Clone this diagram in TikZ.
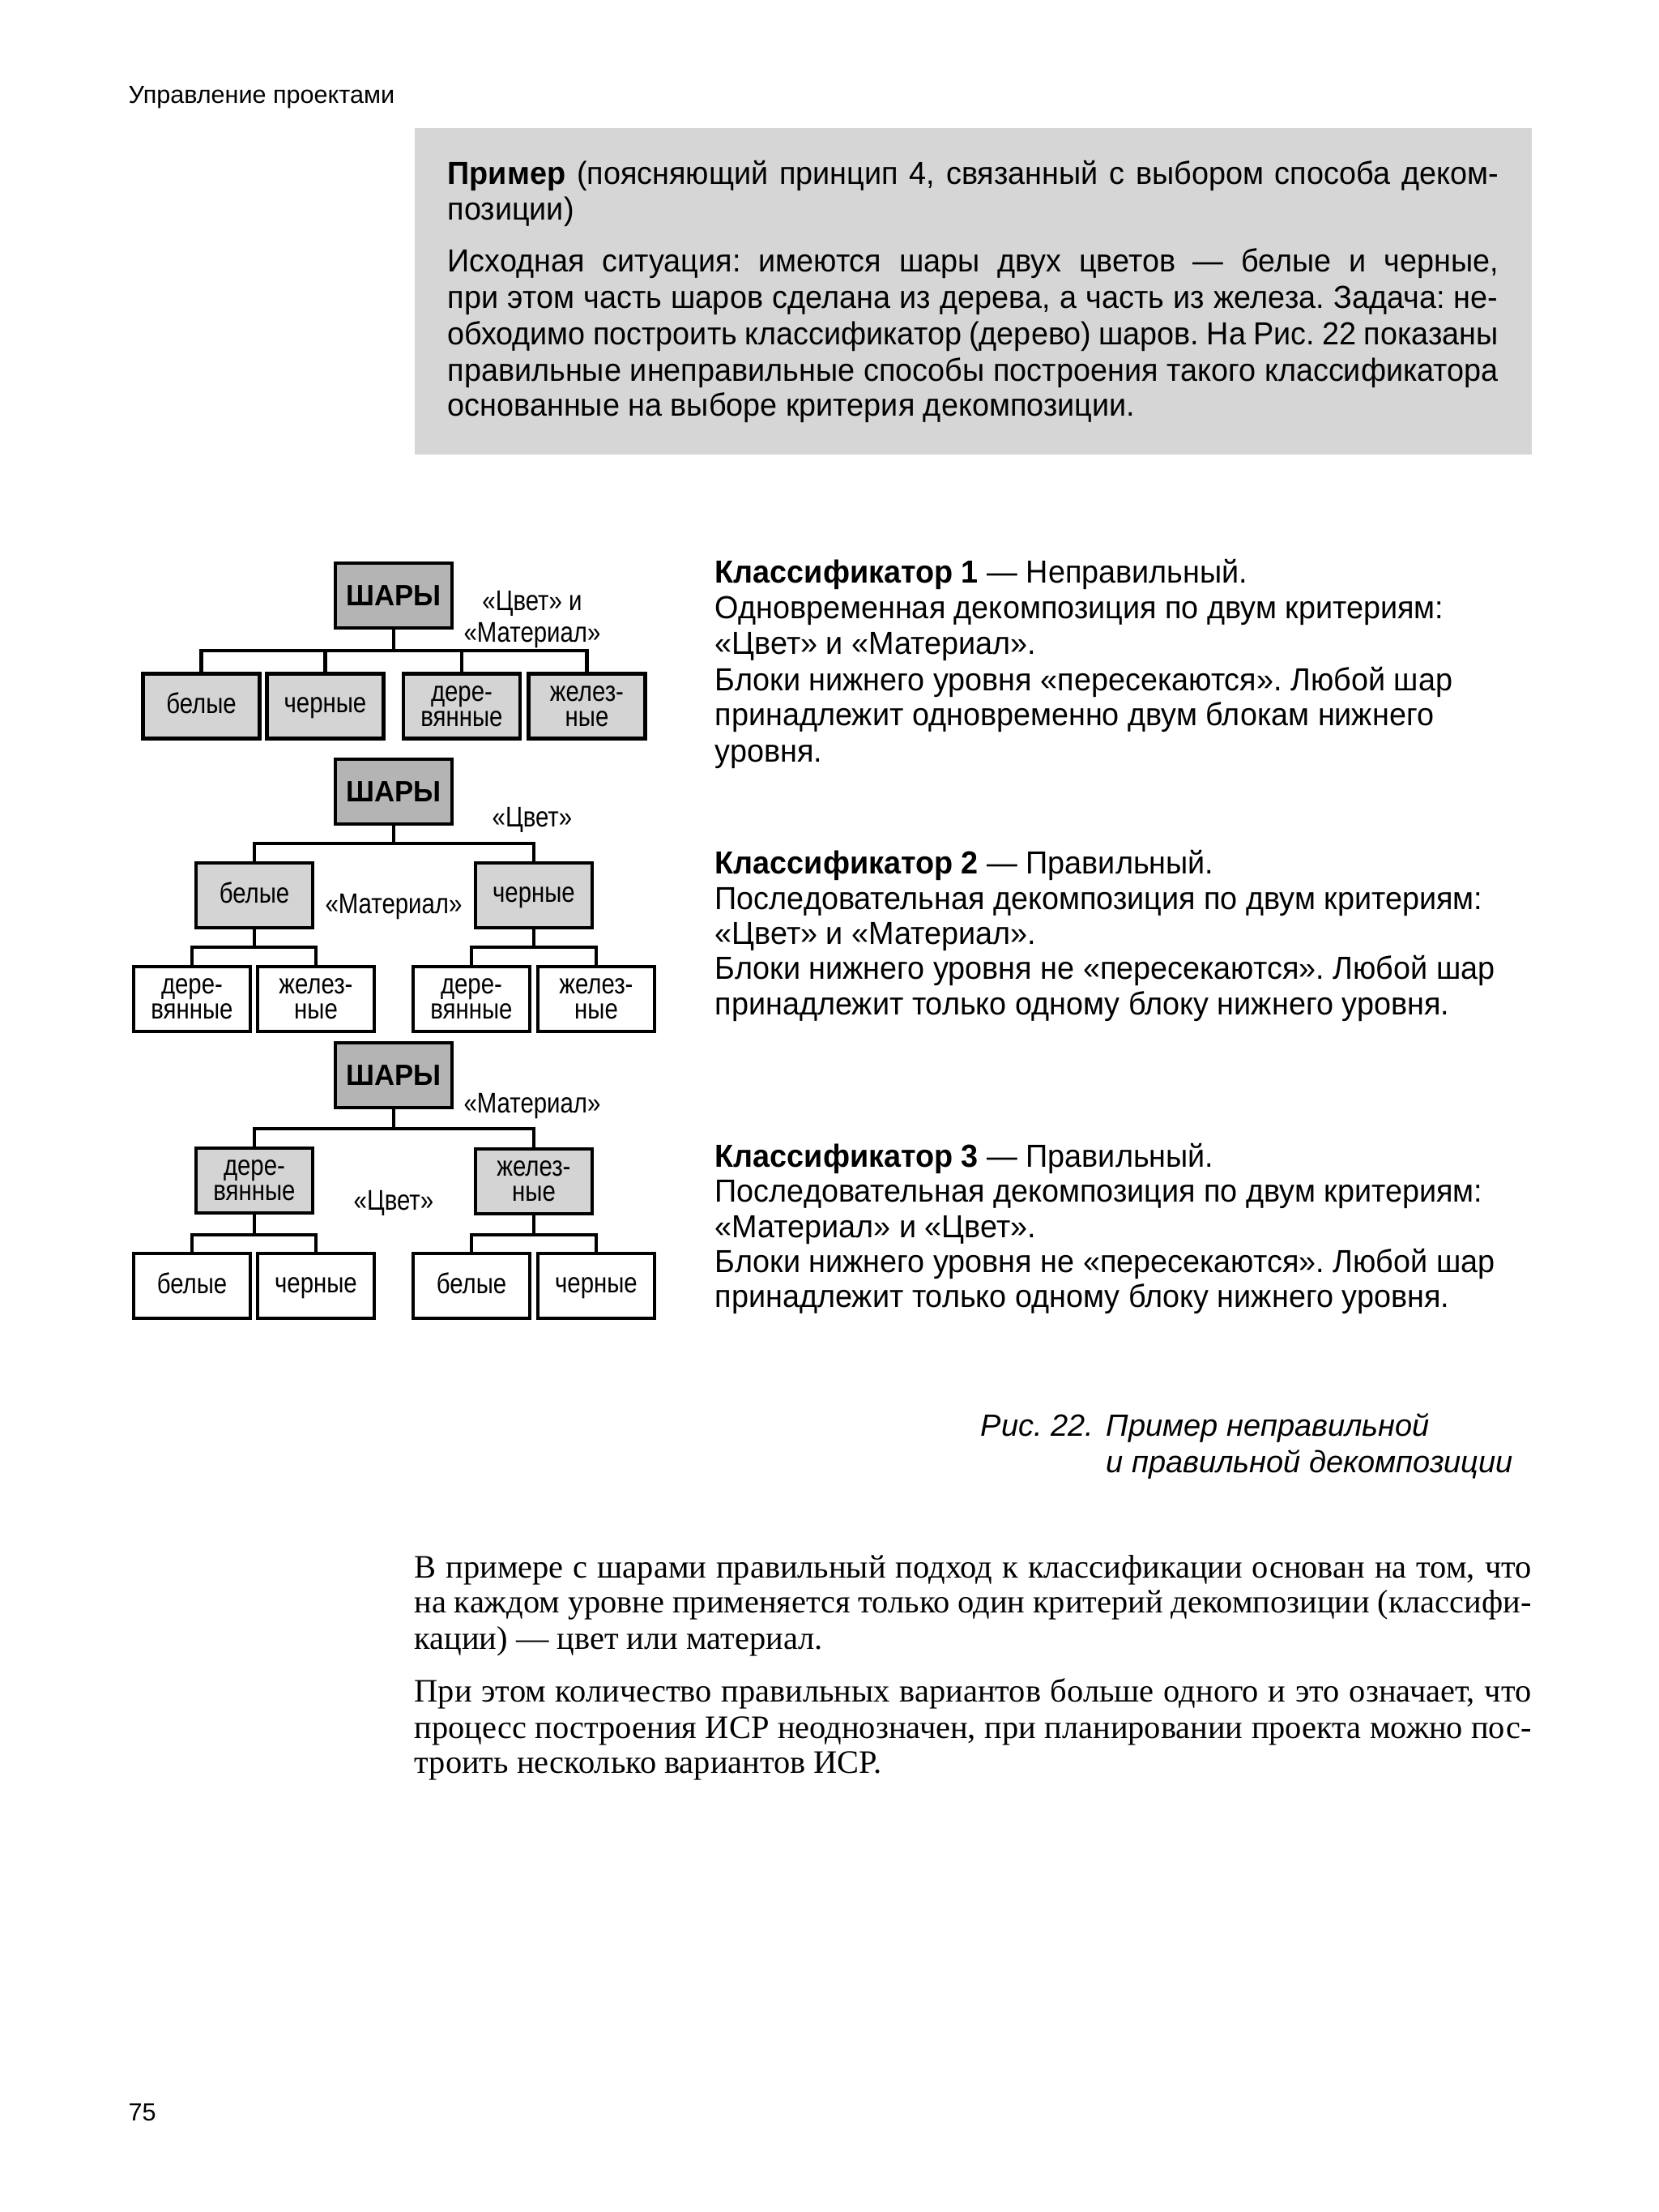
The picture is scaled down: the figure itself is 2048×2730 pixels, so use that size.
\documentclass[tikz,border=0pt]{standalone}
\usepackage{fontspec}
\setmainfont{Liberation Sans}
\newfontfamily\bodyf[FakeStretch=0.96]{Liberation Sans}
\newfontfamily\treef[FakeStretch=0.836]{Liberation Sans}
\newfontfamily\serf{Liberation Serif}
\definecolor{boxgray}{HTML}{D6D6D6}
\definecolor{darkfill}{HTML}{B4B4B4}
\definecolor{lightfill}{HTML}{D4D4D4}
\frenchspacing
\newcommand{\one}[1]{\vphantom{Бр}#1}
\begin{document}
\begin{tikzpicture}[x=0.1mm,y=-0.1mm,
  tb/.style={draw, line width=1.3pt, minimum width=14.4mm, minimum height=8mm, inner sep=0pt, align=center, font=\treef\fontsize{10}{8.8}\selectfont},
  root/.style={tb, fill=darkfill, font=\bodyf\bfseries\fontsize{10.3}{11}\selectfont},
  mid/.style={tb, fill=lightfill},
  leaf/.style={tb, fill=white},
  lbl/.style={anchor=base, inner sep=0pt, font=\treef\fontsize{10}{10}\selectfont},
  conn/.style={line width=1.3pt},
  txt/.style={anchor=base west, inner sep=0pt, font=\bodyf\fontsize{11.2}{13}\selectfont},
  ser/.style={anchor=base west, inner sep=0pt, font=\serf\fontsize{11.5}{13}\selectfont},
  captxt/.style={anchor=base west, inner sep=0pt, font=\itshape\fontsize{10.8}{12}\selectfont},
  hdr/.style={anchor=base west, inner sep=0pt, font=\fontsize{8.7}{10}\selectfont},
]
\useasboundingbox (0,0) rectangle (2048,2730);
\fill[white] (0,0) rectangle (2048,2730);

% header and page number
\node[hdr] (head) at (158,127) {Управление проектами};
\node[hdr] (pnum) at (158,2617) {75};

% grey example box
\fill[boxgray] (512,158) rectangle (1891,561);
\node[txt] (g1) at (552,227) {\makebox[129.7mm][s]{\textbf{Пример} (поясняющий принцип 4, связанный с выбором способа деком-}};
\node[txt] (g2) at (552,271) {позиции)};
\node[txt] (g3) at (552,335) {\makebox[129.7mm][s]{Исходная ситуация: имеются шары двух цветов — белые и черные,}};
\node[txt] (g4) at (552,380) {\makebox[129.7mm][s]{при этом часть шаров сделана из дерева, а часть из железа. Задача: не-}};
\node[txt] (g5) at (552,425) {\makebox[129.7mm][s]{обходимо построить классификатор (дерево) шаров. На Рис. 22 показаны}};
\node[txt] (g6) at (552,470) {\makebox[129.7mm][s]{правильные инеправильные способы построения такого классификатора}};
\node[txt] (g7) at (552,513) {основанные на выборе критерия декомпозиции.};

% ---------- Tree 1 ----------
\node[root] (S1) at (486,735) {ШАРЫ};
\node[mid] (A1) at (248.5,871.5) {\one{белые}};
\node[mid] (B1) at (401.5,871.5) {\one{черные}};
\node[mid] (C1) at (570,871.5) {дере-\\вянные};
\node[mid] (D1) at (724.5,871.5) {желез-\\ные};
\coordinate (b1) at (486,803);
\draw[conn] (S1.south) -- (b1);
\draw[conn] (A1.north) |- (b1) -| (D1.north);
\draw[conn] (B1.north) -- (B1.north |- b1);
\draw[conn] (C1.north) -- (C1.north |- b1);
\node[lbl] (l1a) at (657,753) {«Цвет» и};
\node[lbl] (l1b) at (657,792) {«Материал»};

% ---------- Tree 2 ----------
\node[root] (S2) at (486,977) {ШАРЫ};
\node[mid] (W2) at (314,1105) {\one{белые}};
\node[mid] (K2) at (659,1105) {\one{черные}};
\coordinate (b2) at (486,1041);
\draw[conn] (S2.south) -- (b2);
\draw[conn] (W2.north) |- (b2) -| (K2.north);
\node[leaf] (W2a) at (237,1233) {дере-\\вянные};
\node[leaf] (W2b) at (390,1233) {желез-\\ные};
\node[leaf] (K2a) at (582,1233) {дере-\\вянные};
\node[leaf] (K2b) at (736,1233) {желез-\\ные};
\coordinate (b2w) at (314,1169);
\coordinate (b2k) at (659,1169);
\draw[conn] (W2.south) -- (b2w);
\draw[conn] (W2a.north) |- (b2w) -| (W2b.north);
\draw[conn] (K2.south) -- (b2k);
\draw[conn] (K2a.north) |- (b2k) -| (K2b.north);
\node[lbl] (l2a) at (657,1020) {«Цвет»};
\node[lbl] (l2b) at (486,1127) {«Материал»};

% ---------- Tree 3 ----------
\node[root] (S3) at (486,1327) {ШАРЫ};
\node[mid] (W3) at (314,1457) {дере-\\вянные};
\node[mid] (K3) at (659,1458) {желез-\\ные};
\coordinate (b3) at (486,1393);
\draw[conn] (S3.south) -- (b3);
\draw[conn] (W3.north) |- (b3) -| (K3.north);
\node[leaf] (W3a) at (237,1587) {\one{белые}};
\node[leaf] (W3b) at (390,1587) {\one{черные}};
\node[leaf] (K3a) at (582,1587) {\one{белые}};
\node[leaf] (K3b) at (736,1587) {\one{черные}};
\coordinate (b3w) at (314,1524);
\coordinate (b3k) at (659,1524);
\draw[conn] (W3.south) -- (b3w);
\draw[conn] (W3a.north) |- (b3w) -| (W3b.north);
\draw[conn] (K3.south) -- (b3k);
\draw[conn] (K3a.north) |- (b3k) -| (K3b.north);
\node[lbl] (l3a) at (657,1373) {«Материал»};
\node[lbl] (l3b) at (486,1493) {«Цвет»};

% ---------- right column ----------
\node[txt] (r11) at (882,719) {\textbf{Классификатор 1} — Неправильный.};
\node[txt] (r12) at (882,763) {Одновременная декомпозиция по двум критериям:};
\node[txt] (r13) at (882,807) {«Цвет» и «Материал».};
\node[txt] (r14) at (882,852) {Блоки нижнего уровня «пересекаются». Любой шар};
\node[txt] (r15) at (882,895) {принадлежит одновременно двум блокам нижнего};
\node[txt] (r16) at (882,940) {уровня.};

\node[txt] (r21) at (882,1078) {\textbf{Классификатор 2} — Правильный.};
\node[txt] (r22) at (882,1122) {Последовательная декомпозиция по двум критериям:};
\node[txt] (r23) at (882,1165) {«Цвет» и «Материал».};
\node[txt] (r24) at (882,1208) {Блоки нижнего уровня не «пересекаются». Любой шар};
\node[txt] (r25) at (882,1252) {принадлежит только одному блоку нижнего уровня.};

\node[txt] (r31) at (882,1440) {\textbf{Классификатор 3} — Правильный.};
\node[txt] (r32) at (882,1483) {Последовательная декомпозиция по двум критериям:};
\node[txt] (r33) at (882,1527) {«Материал» и «Цвет».};
\node[txt] (r34) at (882,1570) {Блоки нижнего уровня не «пересекаются». Любой шар};
\node[txt] (r35) at (882,1613) {принадлежит только одному блоку нижнего уровня.};

% ---------- caption ----------
\node[captxt] (cap0) at (1210,1772) {Рис. 22.};
\node[captxt] (cap1) at (1365,1772) {Пример неправильной};
\node[captxt] (cap2) at (1365,1817) {и правильной декомпозиции};

% ---------- body text ----------
\node[ser] (p1) at (511,1947) {\makebox[137.9mm][s]{В примере с шарами правильный подход к классификации основан на том, что}};
\node[ser] (p2) at (511,1990) {\makebox[137.9mm][s]{на каждом уровне применяется только один критерий декомпозиции (классифи-}};
\node[ser] (p3) at (511,2035) {кации) — цвет или материал.};
\node[ser] (p4) at (511,2100) {\makebox[137.9mm][s]{При этом количество правильных вариантов больше одного и это означает, что}};
\node[ser] (p5) at (511,2145) {\makebox[137.9mm][s]{процесс построения ИСР неоднозначен, при планировании проекта можно пос-}};
\node[ser] (p6) at (511,2188) {троить несколько вариантов ИСР.};
\end{tikzpicture}
\end{document}
